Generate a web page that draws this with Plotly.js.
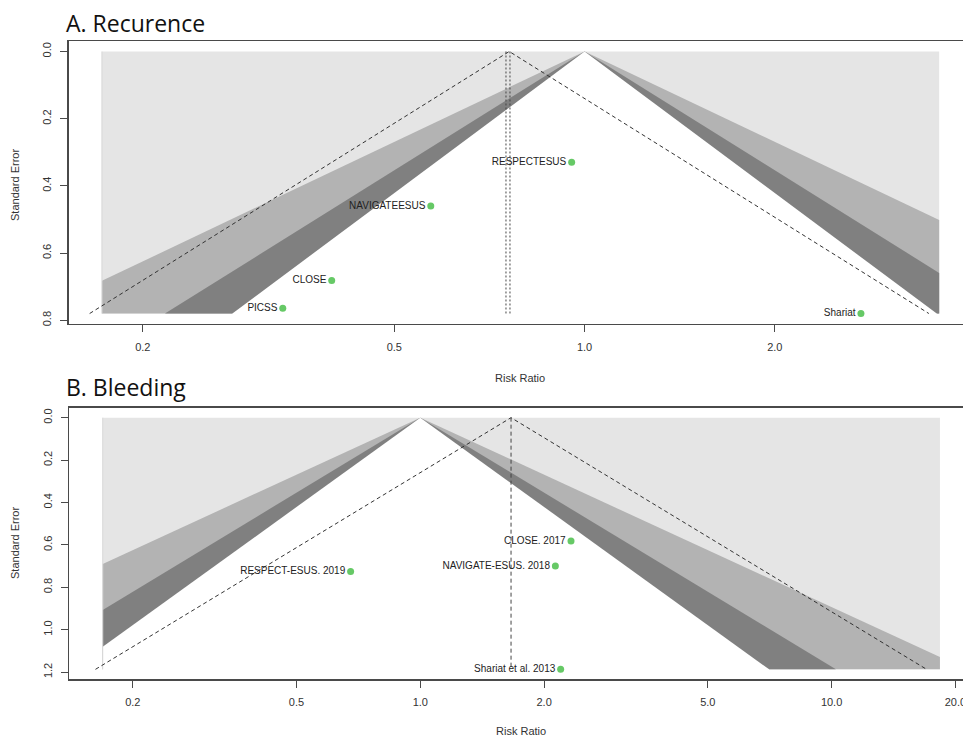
<!DOCTYPE html>
<html>
<head>
<meta charset="utf-8">
<script src="https://cdn.plot.ly/plotly-3.0.1.min.js"></script>
<style>html,body{margin:0;padding:0;background:#fff;}#chart{width:963px;height:738px;}</style>
</head>
<body>
<div id="chart"></div>
<script>
// ---------- Data: A. Recurrence ----------
const studiesA = ["RESPECTESUS", "NAVIGATEESUS", "CLOSE", "PICSS", "Shariat"];
const rrA = [0.954, 0.571, 0.398, 0.333, 2.737];
const seA = [0.330, 0.460, 0.682, 0.764, 0.780];
const estA = 0.760;              // pooled risk ratio (apex of dashed funnel)
const estLinesA = [0.751, 0.762]; // dotted vertical estimate lines
const rectA = [0.1723, 3.64];     // x-extent of shaded region (risk ratio)

// ---------- Data: B. Bleeding ----------
const studiesB = ["CLOSE. 2017", "NAVIGATE-ESUS. 2018", "RESPECT-ESUS. 2019", "Shariat et al. 2013"];
const rrB = [2.325, 2.13, 0.677, 2.194];
const seB = [0.582, 0.700, 0.726, 1.187];
const estB = 1.662;
const estLinesB = [1.662];
const rectB = [0.169, 18.34];

// contour levels (99%, 95%, 90%) and reference line
const zLevels = [2.576, 1.96, 1.645];
const refline = 1.0;
const zCI = 1.96;

const xTicksA = [0.2, 0.5, 1, 2];
const xTickTextA = ["0.2", "0.5", "1.0", "2.0"];
const xTicksB = [0.2, 0.5, 1, 2, 5, 10, 20];
const xTickTextB = ["0.2", "0.5", "1.0", "2.0", "5.0", "10.0", "20.0"];
const yTicksA = [0, 0.2, 0.4, 0.6, 0.8];
const yTickTextA = ["0.0", "0.2", "0.4", "0.6", "0.8"];
const yTicksB = [0, 0.2, 0.4, 0.6, 0.8, 1.0, 1.2];
const yTickTextB = ["0.0", "0.2", "0.4", "0.6", "0.8", "1.0", "1.2"];

// ---------- styles ----------
const shades = ["#b3b3b3", "#808080", "#ffffff"];
const backCol = "#e5e5e5";
const ptCol = "#66c966";
const axCol = "#4a4a4a";
const font = "Liberation Sans, Arial, Helvetica, sans-serif";

function triangle(ref, z, S, xl, pad) {
  const L = Math.log(xl[0]), R = Math.log(xl[1]), r0 = Math.log(ref);
  const B = S + pad;
  const pts = [[r0, 0]];
  if (r0 - z * S < L) { pts.push([L, (r0 - L) / z]); pts.push([L, B]); }
  else { pts.push([r0 - z * S, S]); pts.push([r0 - z * S, B]); }
  if (r0 + z * S > R) { pts.push([R, B]); pts.push([R, (R - r0) / z]); }
  else { pts.push([r0 + z * S, B]); pts.push([r0 + z * S, S]); }
  pts.push([r0, 0]);
  return { x: pts.map(p => Math.exp(p[0])), y: pts.map(p => p[1]) };
}

function panel(rr, se, studies, est, estLines, rect, xa, ya, vdash) {
  const S = Math.max(...se);
  const tr = [];
  tr.push({ x: [rect[0], rect[1], rect[1], rect[0], rect[0]], y: [0, 0, S, S, 0],
    mode: "lines", fill: "toself", fillcolor: backCol, line: { width: 0 },
    xaxis: xa, yaxis: ya, hoverinfo: "skip", showlegend: false });
  zLevels.forEach((z, i) => {
    const t = triangle(refline, z, S, rect, i === zLevels.length - 1 ? S * 0.006 : 0);
    tr.push({ x: t.x, y: t.y, mode: "lines", fill: "toself", fillcolor: shades[i],
      line: { width: 0 }, xaxis: xa, yaxis: ya, hoverinfo: "skip", showlegend: false });
  });
  // faint border of the left edge of the shaded box
  tr.push({ x: [rect[0], rect[0]], y: [0, S], mode: "lines",
    line: { color: "#d8d8d8", width: 1 }, xaxis: xa, yaxis: ya, hoverinfo: "skip", showlegend: false });
  const le = Math.log(est);
  tr.push({ x: [Math.exp(le - zCI * S), est, Math.exp(le + zCI * S)], y: [S, 0, S],
    mode: "lines", line: { color: "#333", width: 1, dash: "4px,3px" },
    xaxis: xa, yaxis: ya, hoverinfo: "skip", showlegend: false });
  estLines.forEach(v => {
    tr.push({ x: [v, v], y: [0, S], mode: "lines",
      line: { color: "#444", width: 1, dash: vdash },
      xaxis: xa, yaxis: ya, hoverinfo: "skip", showlegend: false });
  });
  tr.push({ x: rr, y: se, text: studies, mode: "markers+text", textposition: "middle left",
    marker: { color: ptCol, size: 7 }, textfont: { family: font, size: 10, color: "#222" },
    xaxis: xa, yaxis: ya, showlegend: false, cliponaxis: false });
  return tr;
}

const traces = [].concat(
  panel(rrA, seA, studiesA, estA, estLinesA, rectA, "x", "y", "2px,2px"),
  panel(rrB, seB, studiesB, estB, estLinesB, rectB, "x2", "y2", "4px,3px")
);

function xAxis(range, domain, tv, tt, anchor) {
  return { type: "log", range: range, domain: domain, anchor: anchor,
    showline: true, mirror: true, linecolor: axCol, linewidth: 1.3,
    ticks: "outside", ticklen: 7, tickcolor: axCol, tickwidth: 1,
    tickvals: tv, ticktext: tt, showgrid: false, zeroline: false,
    ticklabelstandoff: 5, ticklabeloverflow: "allow",
    tickfont: { family: font, size: 11, color: "#333" } };
}
function yAxis(range, domain, tv, tt, anchor) {
  return { range: range, domain: domain, anchor: anchor,
    showline: true, mirror: false, linecolor: axCol, linewidth: 1.3,
    ticks: "outside", ticklen: 7, tickcolor: axCol, tickwidth: 1,
    tickvals: tv, ticktext: tt, tickangle: -90, showgrid: false, zeroline: false,
    ticklabelstandoff: 5, ticklabeloverflow: "allow",
    tickfont: { family: font, size: 11, color: "#333" } };
}

const W = 963, H = 738;
const layout = {
  width: W, height: H,
  margin: { l: 0, r: 0, t: 0, b: 0 },
  paper_bgcolor: "#fff", plot_bgcolor: "#fff",
  showlegend: false,
  xaxis: xAxis([-0.8166, 0.5988], [68.5 / W, 1], xTicksA, xTickTextA, "y"),
  yaxis: yAxis([0.8112, -0.0312], [1 - 324 / H, 1 - 41 / H], yTicksA, yTickTextA, "x"),
  xaxis2: xAxis([-0.8534, 1.3195], [69.3 / W, 1], xTicksB, xTickTextB, "y2"),
  yaxis2: yAxis([1.2345, -0.0475], [1 - 679.4 / H, 1 - 407.6 / H], yTicksB, yTickTextB, "x2"),
  annotations: [
    { text: "A. Recurence", xref: "paper", yref: "paper", x: 64 / W, y: 1 - 23 / H,
      xanchor: "left", yanchor: "middle", showarrow: false,
      font: { family: "Open Sans, sans-serif", size: 23, color: "#111" } },
    { text: "B. Bleeding", xref: "paper", yref: "paper", x: 64 / W, y: 1 - 387 / H,
      xanchor: "left", yanchor: "middle", showarrow: false,
      font: { family: "Open Sans, sans-serif", size: 23, color: "#111" } },
    { text: "Standard Error", xref: "paper", yref: "paper", x: 15 / W, y: 1 - 185 / H,
      xanchor: "center", yanchor: "middle", textangle: -90, showarrow: false,
      font: { family: font, size: 11, color: "#333" } },
    { text: "Standard Error", xref: "paper", yref: "paper", x: 15 / W, y: 1 - 543 / H,
      xanchor: "center", yanchor: "middle", textangle: -90, showarrow: false,
      font: { family: font, size: 11, color: "#333" } },
    { text: "Risk Ratio", xref: "paper", yref: "paper", x: 520 / W, y: 1 - 378 / H,
      xanchor: "center", yanchor: "middle", showarrow: false,
      font: { family: font, size: 11, color: "#333" } },
    { text: "Risk Ratio", xref: "paper", yref: "paper", x: 521 / W, y: 1 - 731 / H,
      xanchor: "center", yanchor: "middle", showarrow: false,
      font: { family: font, size: 11, color: "#333" } }
  ]
};

Plotly.newPlot("chart", traces, layout, { staticPlot: true, displayModeBar: false });
</script>
</body>
</html>
